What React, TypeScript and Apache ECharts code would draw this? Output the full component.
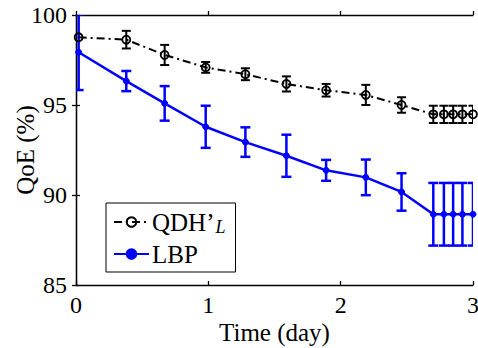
import React, { useEffect, useRef } from "react";
import * as echarts from "echarts";

const days = [0.02, 0.38, 0.67, 0.98, 1.28, 1.59, 1.89, 2.19, 2.46, 2.7, 2.78, 2.85, 2.92, 3.0];
const qdhMean = [98.76, 98.63, 97.78, 97.09, 96.71, 96.17, 95.82, 95.56, 95.0, 94.48, 94.48, 94.48, 94.48, 94.48];
const qdhErr = [0, 0.49, 0.56, 0.3, 0.33, 0.42, 0.35, 0.56, 0.43, 0.48, 0.48, 0.48, 0.48, 0.48];
const lbpMean = [97.93, 96.33, 95.09, 93.79, 92.94, 92.18, 91.37, 90.98, 90.17, 88.93, 88.93, 88.93, 88.93, 88.93];
const lbpErr = [2.1, 0.56, 0.96, 1.17, 0.82, 1.17, 0.58, 0.99, 1.04, 1.74, 1.74, 1.74, 1.74, 1.74];
const xTicks = [0, 1, 2, 3];
const yTicks = [85, 90, 95, 100];

const FONT = "Liberation Serif";

function errorSeries(mean: number[], err: number[], color: string, cap: number, width: number) {
  return {
    type: "custom",
    clip: true,
    z: 3,
    silent: true,
    data: days.map((d, i) => [d, mean[i] - err[i], mean[i] + err[i]]),
    renderItem: (params: any, api: any) => {
      const x = api.value(0);
      const lo = api.coord([x, api.value(1)]);
      const hi = api.coord([x, api.value(2)]);
      if (Math.abs(lo[1] - hi[1]) < 0.5) return { type: "group", children: [] };
      const style = { stroke: color, lineWidth: width, fill: "none" };
      return {
        type: "group",
        children: [
          { type: "line", shape: { x1: lo[0], y1: lo[1], x2: hi[0], y2: hi[1] }, style },
          { type: "line", shape: { x1: lo[0] - cap / 2, y1: lo[1], x2: lo[0] + cap / 2, y2: lo[1] }, style },
          { type: "line", shape: { x1: hi[0] - cap / 2, y1: hi[1], x2: hi[0] + cap / 2, y2: hi[1] }, style },
        ],
      };
    },
  };
}

export default function App() {
  const ref = useRef<HTMLDivElement>(null);
  useEffect(() => {
    if (!ref.current) return;
    const chart = echarts.init(ref.current, null, { renderer: "svg" });
    const axisLine = { lineStyle: { color: "#000", width: 1.3 } };
    chart.setOption({
      animation: false,
      backgroundColor: "#fff",
      textStyle: { fontFamily: FONT, color: "#000" },
      grid: { left: 76, right: 5, top: 15, bottom: 63, containLabel: false, outerBoundsMode: "none" },
      legend: {
        orient: "vertical",
        left: 106,
        top: 203,
        padding: [6, 10, 5, 7],
        backgroundColor: "#fff",
        borderColor: "#000",
        borderWidth: 1,
        borderRadius: 0,
        itemWidth: 35,
        itemHeight: 12,
        itemGap: 5,
        data: ["QDH’L", "LBP"],
        formatter: (name: string) => (name === "QDH’L" ? "QDH’{sub|L}" : name),
        textStyle: {
          fontFamily: FONT,
          fontSize: 25,
          color: "#000",
          lineHeight: 26,
          padding: [0, 0, 0, -2],
          rich: {
            sub: { fontFamily: FONT, fontSize: 18, fontStyle: "italic", color: "#000", padding: [10, 0, 0, 1] },
          },
        },
      },
      xAxis: [
        {
          type: "value",
          min: 0,
          max: 3,
          interval: 1,
          name: "Time (day)",
          nameLocation: "middle",
          nameGap: 35,
          nameMoveOverlap: false,
          nameTextStyle: { fontFamily: FONT, fontSize: 25, color: "#000" },
          axisLine,
          axisTick: { inside: true, length: 4, lineStyle: { color: "#000", width: 1.3 } },
          axisLabel: {
            fontFamily: FONT,
            fontSize: 24,
            color: "#000",
            margin: 8,
            formatter: (v: number) => (xTicks.includes(v) ? String(v) : ""),
          },
          splitLine: { show: false },
        },
        {
          type: "value",
          position: "top",
          min: 0,
          max: 3,
          interval: 1,
          axisLine,
          axisTick: { inside: false, length: 4, lineStyle: { color: "#000", width: 1.3 } },
          axisLabel: { show: false },
          splitLine: { show: false },
        },
      ],
      yAxis: [
        {
          type: "value",
          min: 85,
          max: 100,
          interval: 5,
          name: "QoE (%)",
          nameLocation: "middle",
          nameRotate: 90,
          nameGap: 38,
          nameMoveOverlap: false,
          nameTextStyle: { fontFamily: FONT, fontSize: 25, color: "#000" },
          axisLine: { show: true, ...axisLine },
          axisTick: { show: true, inside: false, length: 4, lineStyle: { color: "#000", width: 1.3 } },
          axisLabel: {
            fontFamily: FONT,
            fontSize: 24,
            color: "#000",
            margin: 9,
            formatter: (v: number) => (yTicks.includes(v) ? String(v) : ""),
          },
          splitLine: { show: false },
        },
        {
          type: "value",
          position: "right",
          min: 85,
          max: 100,
          interval: 5,
          axisLine: { show: true, ...axisLine },
          axisTick: { show: true, inside: false, length: 4, lineStyle: { color: "#000", width: 1.3 } },
          axisLabel: { show: false },
          splitLine: { show: false },
        },
      ],
      series: [
        {
          name: "QDH’L",
          type: "line",
          data: days.map((d, i) => [d, qdhMean[i]]),
          symbol: "circle",
          symbolSize: 8,
          z: 4,
          itemStyle: { color: "rgba(255,255,255,0)", borderColor: "#000", borderWidth: 1.8 },
          lineStyle: { color: "#000", width: 2, type: [8, 4, 2, 4] },
        },
        {
          name: "LBP",
          type: "line",
          data: days.map((d, i) => [d, lbpMean[i]]),
          symbol: "circle",
          symbolSize: 6,
          z: 4,
          itemStyle: { color: "#0000ff", borderColor: "#0000ff", borderWidth: 1 },
          lineStyle: { color: "#0000ff", width: 2.5, type: "solid" },
        },
        errorSeries(qdhMean, qdhErr, "#000", 9, 2),
        errorSeries(lbpMean, lbpErr, "#0000ff", 10, 2.5),
      ],
    });
    return () => chart.dispose();
  }, []);
  return (
    <div
      ref={ref}
      style={{ position: "absolute", left: 0, top: 0, width: 478, height: 348 }}
    />
  );
}
